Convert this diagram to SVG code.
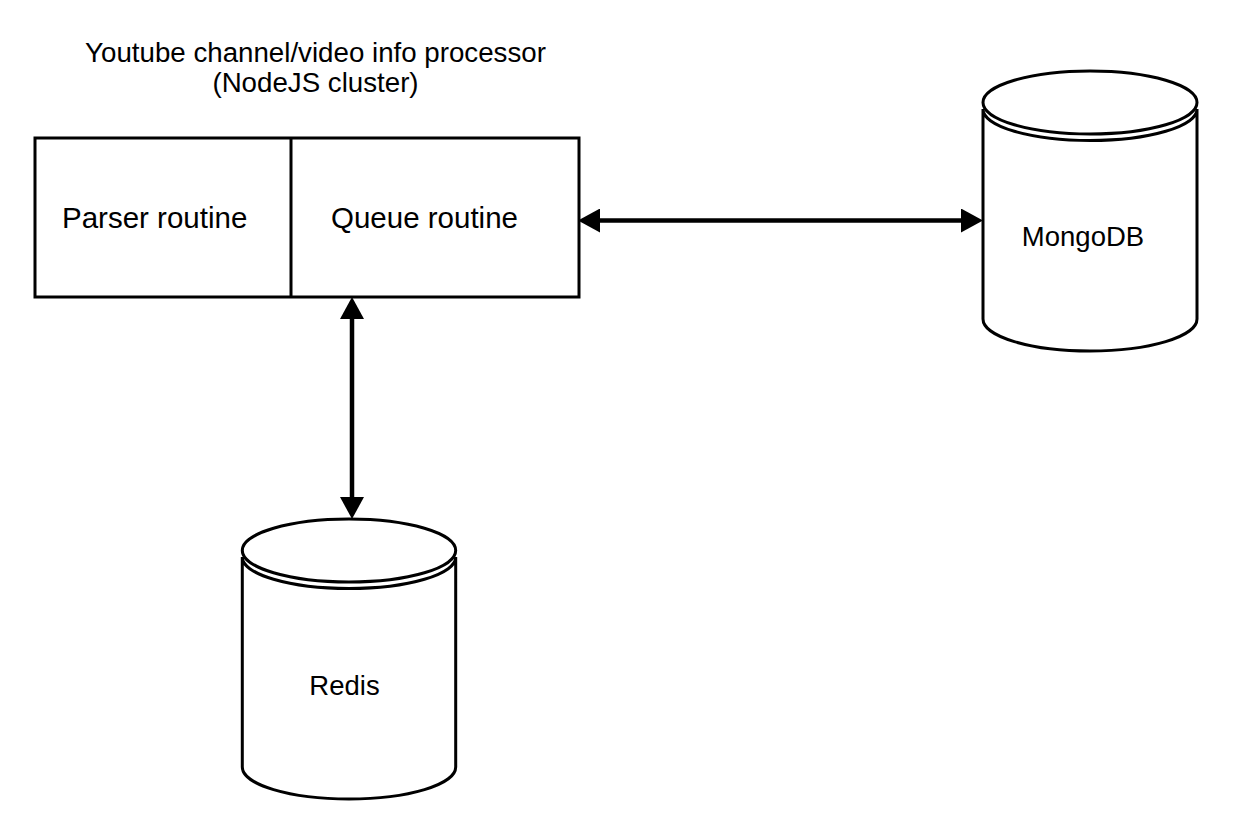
<svg xmlns="http://www.w3.org/2000/svg" width="1236" height="822" viewBox="0 0 1236 822">
  <style>
    .shape { fill: #ffffff; stroke: #000000; stroke-width: 3; }
    .lbl { font-family: "Liberation Sans", Arial, Helvetica, sans-serif; fill: #000000; }
    .conn { stroke: #000000; stroke-width: 4.5; fill: none; }
  </style>
  <defs>
    <marker id="arrow" viewBox="0 0 22 24" markerUnits="userSpaceOnUse" markerWidth="22" markerHeight="24" refX="2" refY="12" orient="auto-start-reverse">
      <path d="M0,0 L22,12 L0,24 Z" fill="#000000"/>
    </marker>
  </defs>
  <rect width="1236" height="822" fill="#ffffff"/>

  <g id="title">
    <text class="lbl" x="315.5" y="61.5" font-size="27.7" text-anchor="middle">Youtube channel/video info processor</text>
    <text class="lbl" x="315.5" y="92" font-size="27.7" text-anchor="middle">(NodeJS cluster)</text>
  </g>

  <g id="processor">
    <rect class="shape" x="35" y="138" width="544" height="159"/>
    <line class="shape" x1="291" y1="138" x2="291" y2="297"/>
  </g>
  <g id="parser-routine">
    <text class="lbl" x="62" y="228" font-size="29.5">Parser routine</text>
  </g>
  <g id="queue-routine">
    <text class="lbl" x="331" y="228" font-size="29.5">Queue routine</text>
  </g>

  <g id="mongodb">
    <path class="shape" d="M983,109 L983,319 A107,32 0 0 0 1197,319 L1197,109 A107,31.5 0 0 1 983,109 Z"/>
    <ellipse class="shape" cx="1090" cy="102.5" rx="107" ry="31.5"/>
    <text class="lbl" x="1083" y="246" font-size="27.5" text-anchor="middle">MongoDB</text>
  </g>

  <g id="redis">
    <path class="shape" d="M242.3,557 L242.3,767 A106.7,32 0 0 0 455.7,767 L455.7,557 A106.7,31.5 0 0 1 242.3,557 Z"/>
    <ellipse class="shape" cx="349" cy="550.5" rx="106.7" ry="31.5"/>
    <text class="lbl" x="344.5" y="695" font-size="27.5" text-anchor="middle">Redis</text>
  </g>

  <g id="connectors">
    <line class="conn" x1="598" y1="220.5" x2="963" y2="220.5" marker-start="url(#arrow)" marker-end="url(#arrow)"/>
    <line class="conn" x1="352" y1="317" x2="352" y2="499" marker-start="url(#arrow)" marker-end="url(#arrow)"/>
  </g>
</svg>
